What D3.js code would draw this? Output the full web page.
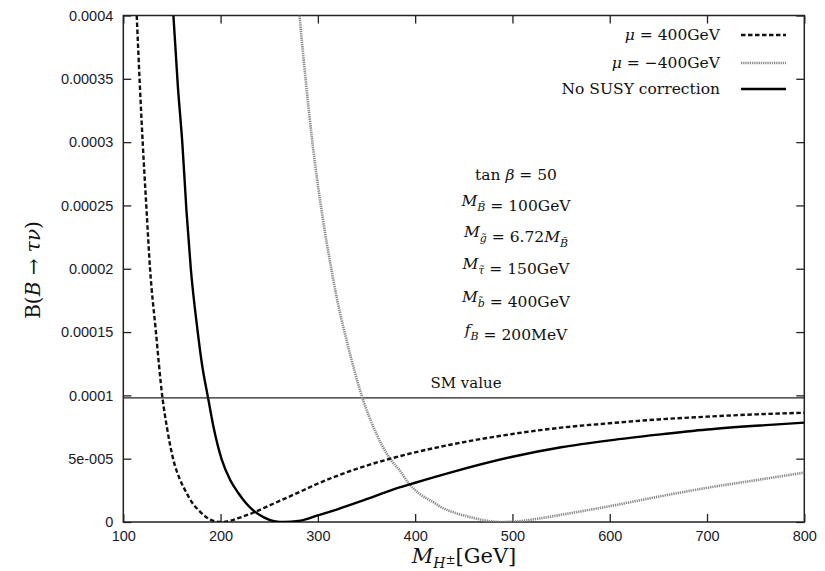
<!DOCTYPE html>
<html><head><meta charset="utf-8">
<script src="https://cdn.jsdelivr.net/npm/d3@7"></script>
<style>
body{margin:0;background:#fff;}
text{font-family:"Liberation Sans",Arial,sans-serif;}
.serif{font-family:"DejaVu Serif","Liberation Serif",serif;}
</style></head>
<body>
<svg id="chart" width="825" height="571"></svg>
<script>
// x values: M_H± [GeV]; y values: branching ratio in units of 1e-4
const muPlusX  = [113.8,117,120,124,127.5,133.3,140.1,145,151.5,158,165.2,171,177.2,185,192,200,210,220,234,250,282,299,340,374.5,400,436,500,550,600,650,700,750,800];
const muPlusY  = [4.0,3.45,2.99,2.45,2.0,1.52,0.99,0.74,0.49,0.34,0.227,0.15,0.095,0.04,0.01,0,0.01,0.035,0.075,0.13,0.24,0.30,0.42,0.50,0.55,0.61,0.695,0.745,0.78,0.81,0.832,0.85,0.863];
const muMinusX = [281.1,288,294.5,304,313.8,320,330,345.4,360,372.7,384.8,393.3,405,419,426,440,453.4,470,488,505,525,556,600,650,700,750,800];
const muMinusY = [4.0,3.45,2.99,2.45,2.0,1.75,1.42,0.99,0.7,0.516,0.40,0.306,0.22,0.155,0.12,0.075,0.045,0.015,0,0.005,0.025,0.065,0.125,0.2,0.27,0.33,0.39];
const noSusyX  = [151.5,156,160.7,165,169.4,176.2,181,186.9,193,201.3,210,218.4,226,233.8,245,255,265,280,299,320,350,384.8,400,436,500,550,600,650,700,750,800];
const noSusyY  = [4.0,3.45,2.99,2.45,2.0,1.52,1.24,0.99,0.74,0.49,0.33,0.227,0.15,0.09,0.035,0.007,0,0.008,0.05,0.10,0.18,0.275,0.31,0.39,0.515,0.59,0.645,0.69,0.73,0.76,0.785];
const smValue = 0.98e-4;
const xTicks = [100,200,300,400,500,600,700,800];
const yTicks = [0,0.00005,0.0001,0.00015,0.0002,0.00025,0.0003,0.00035,0.0004];
const yTickLabels = ["0","5e-005","0.0001","0.00015","0.0002","0.00025","0.0003","0.00035","0.0004"];

const svg = d3.select("#chart");
const L=123.3, R=804.3, T=15.5, B=522;
const x = d3.scaleLinear().domain([100,800]).range([L,R]);
const y = d3.scaleLinear().domain([0,0.0004]).range([B,T]);

svg.append("defs").append("clipPath").attr("id","clip")
  .append("rect").attr("x",L).attr("y",T).attr("width",R-L).attr("height",B-T);

// axes (ticks inside, mirrored)
const tickLen = 8;
const gB = svg.append("g").attr("transform",`translate(0,${B})`)
  .call(d3.axisBottom(x).tickValues(xTicks).tickSize(-tickLen).tickPadding(12).tickFormat(d3.format("d")));
const gT = svg.append("g").attr("transform",`translate(0,${T})`)
  .call(d3.axisTop(x).tickValues(xTicks).tickSize(-tickLen).tickFormat(""));
const gL = svg.append("g").attr("transform",`translate(${L},0)`)
  .call(d3.axisLeft(y).tickValues(yTicks).tickSize(-tickLen).tickPadding(10).tickFormat((d,i)=>yTickLabels[i]));
const gR = svg.append("g").attr("transform",`translate(${R},0)`)
  .call(d3.axisRight(y).tickValues(yTicks).tickSize(-tickLen).tickFormat(""));
[gB,gT,gL,gR].forEach(g=>{
  g.select(".domain").remove();
  g.selectAll(".tick line").attr("stroke","#222").attr("stroke-width",1.3);
  g.selectAll(".tick text").attr("fill","#1a1a2a").style("font-size","14.5px").style("font-family","Liberation Sans, Arial, sans-serif");
});
gB.selectAll(".tick text").attr("dy","0.5em");

// frame
svg.append("rect").attr("x",L).attr("y",T).attr("width",R-L).attr("height",B-T)
  .attr("fill","none").attr("stroke","#222").attr("stroke-width",1.5);

// SM line
svg.append("line").attr("x1",L).attr("x2",R).attr("y1",y(smValue)).attr("y2",y(smValue))
  .attr("stroke","#222").attr("stroke-width",1.2);
svg.append("text").attr("class","serif").attr("x",466).attr("y",y(smValue)-10)
  .attr("text-anchor","middle").style("font-size","15px").attr("fill","#111").text("SM value");

const line = d3.line().x(d=>x(d[0])).y(d=>y(d[1]*1e-4)).curve(d3.curveMonotoneX);
const plot = svg.append("g").attr("clip-path","url(#clip)");
const series = [
  {xs:muMinusX, ys:muMinusY, stroke:"#8a8a8a", w:2.6, dash:"1.3,0.9"},
  {xs:muPlusX,  ys:muPlusY,  stroke:"#111", w:2.4, dash:"4.5,2.5"},
  {xs:noSusyX,  ys:noSusyY,  stroke:"#000", w:2.4, dash:null},
];
series.forEach(s=>{
  plot.append("path").datum(s.xs.map((v,i)=>[v,s.ys[i]]))
    .attr("d",line).attr("fill","none").attr("stroke",s.stroke)
    .attr("stroke-width",s.w).attr("stroke-dasharray",s.dash);
});

// legend
const legend = [
  {parts:[["μ","italic"],[" = 400GeV","normal"]], stroke:"#111", w:2.4, dash:"4.5,2.5", y:35},
  {parts:[["μ","italic"],[" = −400GeV","normal"]], stroke:"#8a8a8a", w:2.6, dash:"1.3,0.9", y:63},
  {parts:[["No SUSY correction","normal"]], stroke:"#000", w:2.4, dash:null, y:89},
];
legend.forEach(l=>{
  const t = svg.append("text").attr("class","serif").attr("x",720).attr("y",l.y+5)
    .attr("text-anchor","end").style("font-size","15.5px").attr("fill","#111");
  l.parts.forEach(p=>t.append("tspan").style("font-style",p[1]).text(p[0]));
  svg.append("line").attr("x1",741).attr("x2",786).attr("y1",l.y).attr("y2",l.y)
    .attr("stroke",l.stroke).attr("stroke-width",l.w).attr("stroke-dasharray",l.dash);
});

// annotations
function ann(yb, build){
  const t = svg.append("text").attr("class","serif").attr("x",516).attr("y",yb)
    .attr("text-anchor","middle").style("font-size","15.5px").attr("fill","#111");
  build(t);
}
function sub(t, s, italic){ t.append("tspan").attr("dy",5).style("font-size","11px").style("font-style",italic?"italic":"normal").text(s); t.append("tspan").attr("dy",-5).text(""); }
ann(180, t=>{ t.append("tspan").text("tan "); t.append("tspan").style("font-style","italic").text("β"); t.append("tspan").text(" = 50"); });
ann(206, t=>{ t.append("tspan").style("font-style","italic").text("M"); sub(t,"B\u0303",true); t.append("tspan").text(" = 100GeV"); });
ann(237, t=>{ t.append("tspan").style("font-style","italic").text("M"); sub(t,"g\u0303",true); t.append("tspan").text(" = 6.72"); t.append("tspan").style("font-style","italic").text("M"); sub(t,"B\u0303",true); });
ann(269, t=>{ t.append("tspan").style("font-style","italic").text("M"); sub(t,"τ\u0303",true); t.append("tspan").text(" = 150GeV"); });
ann(302, t=>{ t.append("tspan").style("font-style","italic").text("M"); sub(t,"b\u0303",true); t.append("tspan").text(" = 400GeV"); });
ann(335, t=>{ t.append("tspan").style("font-style","italic").text("f"); sub(t,"B",true); t.append("tspan").text(" = 200MeV"); });

// axis titles
const yl = svg.append("text").attr("class","serif")
  .attr("transform","translate(40,270) rotate(-90)").attr("text-anchor","middle")
  .style("font-size","20px").attr("fill","#111");
yl.append("tspan").text("B(");
yl.append("tspan").style("font-style","italic").text("B");
yl.append("tspan").text(" → ");
yl.append("tspan").style("font-style","italic").text("τν");
yl.append("tspan").text(")");

const xl = svg.append("text").attr("class","serif").attr("x",464).attr("y",563)
  .attr("text-anchor","middle").style("font-size","21px").attr("fill","#111");
xl.append("tspan").style("font-style","italic").text("M");
xl.append("tspan").attr("dy",5).style("font-size","14px").style("font-style","italic").text("H");
xl.append("tspan").attr("dy",-4).style("font-size","12px").text("±");
xl.append("tspan").attr("dy",-1).text("[GeV]");
</script>
</body></html>
